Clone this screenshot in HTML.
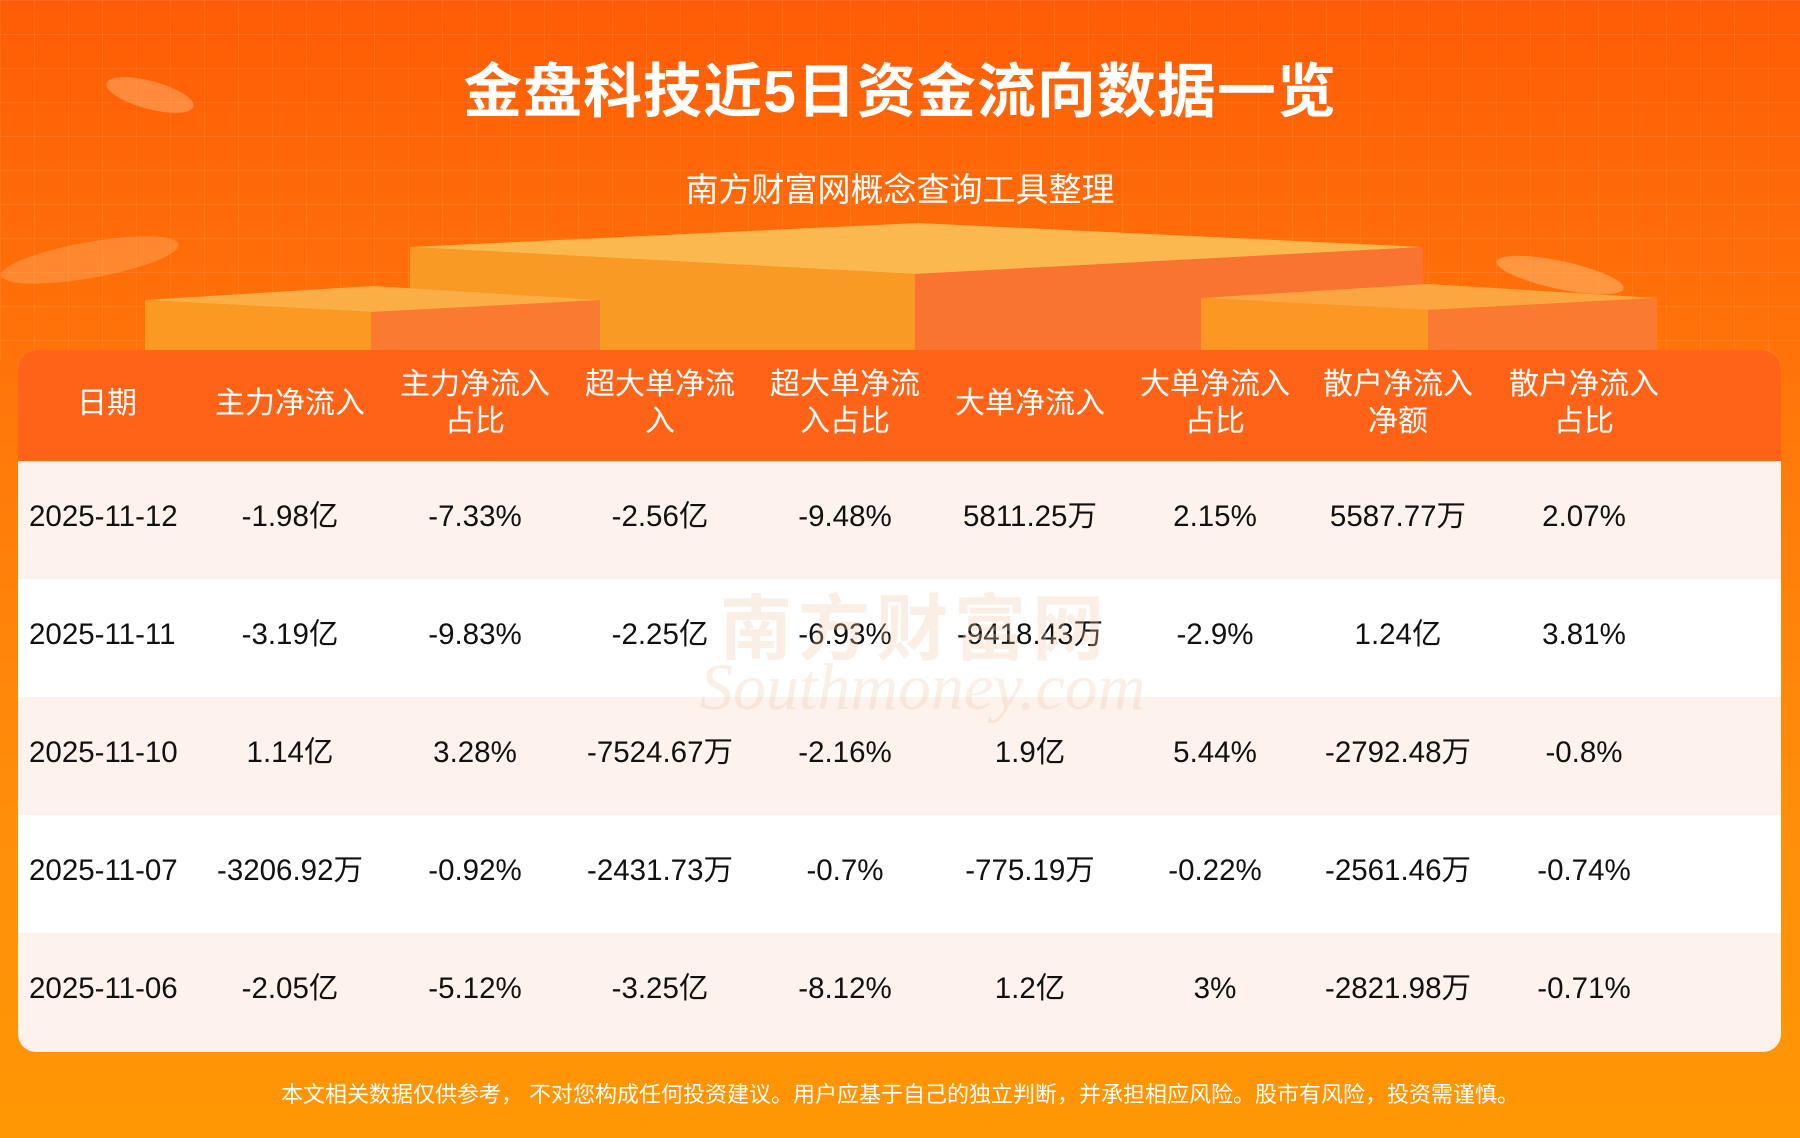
<!DOCTYPE html>
<html><head><meta charset="utf-8"><style>
*{margin:0;padding:0;box-sizing:border-box}
body{width:1800px;height:1138px;overflow:hidden;position:relative;font-family:"Liberation Sans","Noto Sans CJK SC",sans-serif;background:linear-gradient(180deg,#ff5c06 0%,#ff7a0a 40%,#ff900a 75%,#ff9604 100%)}
.grid{position:absolute;left:0;top:0;width:1800px;height:360px;background-image:linear-gradient(rgba(255,255,255,.08) 1px,transparent 1px),linear-gradient(90deg,rgba(255,255,255,.08) 1px,transparent 1px);background-size:34px 34px}
.title{position:absolute;top:44px;left:0;width:1800px;text-align:center;color:#fff;font-size:59px;font-weight:bold;letter-spacing:1px}
.sub{position:absolute;top:163px;left:0;width:1800px;text-align:center;color:#fff;font-size:33px}
.table{position:absolute;left:18px;top:350px;width:1763px;height:702px;border-radius:18px;overflow:hidden;background:#fdf3ec}
.hdr{height:111px;background:#ff6318;position:relative}
.row{height:118px;position:relative}
.row.w{background:#fff}
.c{position:absolute;width:184px;text-align:center;transform:translateX(-92px);top:50%;margin-top:-21px;font-size:29.5px;color:#111;line-height:36px}
.c.d{transform:none;left:11px !important;text-align:left}
.hdr .c{color:#fff;font-size:30px;line-height:37px;margin-top:-21px}
.hdr .c.two{margin-top:-40px}
.foot{position:absolute;top:1077px;left:0;width:1800px;text-align:center;color:#fff;font-size:22px}
.wm{position:absolute;left:720px;top:570px;font-size:72px;color:rgba(240,200,170,.3);font-weight:bold;letter-spacing:6px}
.wm2{position:absolute;left:700px;top:650px;font-size:66px;color:rgba(240,200,170,.3);font-style:italic;font-family:"Liberation Serif",serif}
</style></head><body>
<div class="grid"></div>
<svg width="1800" height="360" style="position:absolute;left:0;top:0">
<polygon points="410,247 918,223 1423,247 915,274" fill="#fbb84e"/>
<polygon points="410,247 915,274 915,360 410,360" fill="#f99a25"/>
<polygon points="915,274 1423,247 1423,360 915,360" fill="#f97331"/>
<polygon points="145,300 373,286 600,300 371,312" fill="#fbae45"/>
<polygon points="145,300 371,312 371,360 145,360" fill="#fb9a22"/>
<polygon points="371,312 600,300 600,360 371,360" fill="#f97a30"/>
<polygon points="1201,298 1428,284 1657,298 1428,310" fill="#fba640"/>
<polygon points="1201,298 1428,310 1428,360 1201,360" fill="#fb9722"/>
<polygon points="1428,310 1657,298 1657,360 1428,360" fill="#f97a30"/>
<ellipse cx="150" cy="95" rx="45" ry="14" fill="rgba(255,200,140,.4)" transform="rotate(15 150 95)"/>
<ellipse cx="90" cy="260" rx="90" ry="18" fill="rgba(255,200,140,.3)" transform="rotate(-10 90 260)"/>
<ellipse cx="1560" cy="275" rx="65" ry="14" fill="rgba(255,210,150,.4)" transform="rotate(12 1560 275)"/>
</svg>
<div class="title">金盘科技近5日资金流向数据一览</div>
<div class="sub">南方财富网概念查询工具整理</div>
<div class="table">
<div class="hdr">
<div class="c" style="left:89px">日期</div>
<div class="c" style="left:272px">主力净流入</div>
<div class="c two" style="left:457px">主力净流入<br>占比</div>
<div class="c two" style="left:642px">超大单净流<br>入</div>
<div class="c two" style="left:827px">超大单净流<br>入占比</div>
<div class="c" style="left:1012px">大单净流入</div>
<div class="c two" style="left:1197px">大单净流入<br>占比</div>
<div class="c two" style="left:1380px">散户净流入<br>净额</div>
<div class="c two" style="left:1566px">散户净流入<br>占比</div>
</div>
<div class="row"><div class="c d" style="left:89px">2025-11-12</div><div class="c" style="left:272px">-1.98亿</div><div class="c" style="left:457px">-7.33%</div><div class="c" style="left:642px">-2.56亿</div><div class="c" style="left:827px">-9.48%</div><div class="c" style="left:1012px">5811.25万</div><div class="c" style="left:1197px">2.15%</div><div class="c" style="left:1380px">5587.77万</div><div class="c" style="left:1566px">2.07%</div></div>
<div class="row w"><div class="c d" style="left:89px">2025-11-11</div><div class="c" style="left:272px">-3.19亿</div><div class="c" style="left:457px">-9.83%</div><div class="c" style="left:642px">-2.25亿</div><div class="c" style="left:827px">-6.93%</div><div class="c" style="left:1012px">-9418.43万</div><div class="c" style="left:1197px">-2.9%</div><div class="c" style="left:1380px">1.24亿</div><div class="c" style="left:1566px">3.81%</div></div>
<div class="row"><div class="c d" style="left:89px">2025-11-10</div><div class="c" style="left:272px">1.14亿</div><div class="c" style="left:457px">3.28%</div><div class="c" style="left:642px">-7524.67万</div><div class="c" style="left:827px">-2.16%</div><div class="c" style="left:1012px">1.9亿</div><div class="c" style="left:1197px">5.44%</div><div class="c" style="left:1380px">-2792.48万</div><div class="c" style="left:1566px">-0.8%</div></div>
<div class="row w"><div class="c d" style="left:89px">2025-11-07</div><div class="c" style="left:272px">-3206.92万</div><div class="c" style="left:457px">-0.92%</div><div class="c" style="left:642px">-2431.73万</div><div class="c" style="left:827px">-0.7%</div><div class="c" style="left:1012px">-775.19万</div><div class="c" style="left:1197px">-0.22%</div><div class="c" style="left:1380px">-2561.46万</div><div class="c" style="left:1566px">-0.74%</div></div>
<div class="row"><div class="c d" style="left:89px">2025-11-06</div><div class="c" style="left:272px">-2.05亿</div><div class="c" style="left:457px">-5.12%</div><div class="c" style="left:642px">-3.25亿</div><div class="c" style="left:827px">-8.12%</div><div class="c" style="left:1012px">1.2亿</div><div class="c" style="left:1197px">3%</div><div class="c" style="left:1380px">-2821.98万</div><div class="c" style="left:1566px">-0.71%</div></div>
</div>
<div class="wm">南方财富网</div>
<div class="wm2">Southmoney.com</div>
<div class="foot">本文相关数据仅供参考， 不对您构成任何投资建议。用户应基于自己的独立判断，并承担相应风险。股市有风险，投资需谨慎。</div>
</body></html>
